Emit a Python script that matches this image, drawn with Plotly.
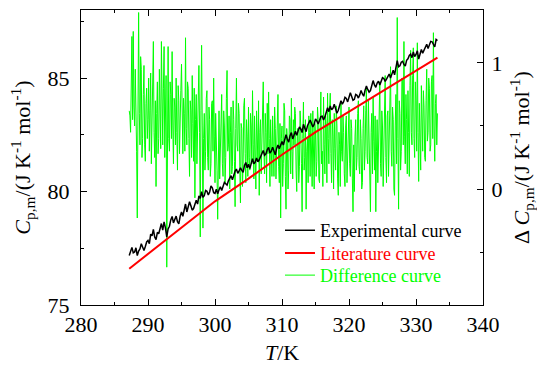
import plotly.graph_objects as go

# ---------------- data ----------------
diff_T_start = 287.2
diff_T_step = 0.1
diff_vals = [
    0.62, 0.58, 0.45, 0.90, 1.21, 0.55, 1.25, 0.65, 0.50, 0.95, 0.70, 0.30, -0.23, 0.85, 1.40, 0.60, 0.35, 1.05, 0.95, 0.25,
    0.40, 0.75, 0.98, 0.35, 0.22, 0.68, 0.80, 0.40, 0.55, 0.88, 0.30, 0.62, 0.92, 0.20, 0.48, 0.85, 1.17, 0.45, 0.25, 0.70,
    0.02, 0.60, 0.85, 0.28, 0.40, 0.95, 0.70, 0.32, 1.17, 0.55, 0.35, 0.80, 1.13, 0.25, 0.60, 0.90, -0.62, 0.50, 1.13, 0.40,
    0.30, 0.85, 0.75, 0.40, 1.09, 0.50, 0.20, 0.72, 0.65, 0.35, 0.88, 0.45, 0.15, 0.82, 0.70, 0.28, 0.45, 0.78, 0.99, 0.38,
    0.28, 0.72, 0.60, 0.30, 1.20, 0.48, 0.35, 0.85, 0.80, 0.40, 0.10, 0.70, 0.62, 0.25, 0.90, 0.52, 0.22, 0.80, -0.07, 0.55,
    0.75, 0.20, 0.40, 0.82, 0.98, 0.45, -0.38, 0.62, 1.14, 0.50, -0.31, 0.40, 0.60, 0.15, 0.30, 0.72, 0.78, 0.25, 0.15, 0.65,
    0.55, 0.10, 0.20, 0.68, 0.70, 0.30, 0.88, 0.42, 0.05, 0.60, 0.45, 0.15, -0.24, 0.50, 0.62, 0.08, 0.30, 0.70, 0.75, 0.20,
    0.10, 0.62, 0.50, 0.05, 0.25, 0.72, 0.94, 0.30, 0.35, 0.58, 0.00, 0.45, 0.65, 0.12, 0.18, 0.70, 0.55, 0.22, -0.14, 0.48,
    0.88, 0.35, 0.30, 0.68, 0.60, 0.15, -0.11, 0.52, 0.48, 0.02, 0.20, 0.66, 0.72, 0.28, 0.05, 0.55, 0.42, 0.10, 0.65, 0.25,
    0.15, 0.60, 0.50, 0.20, 0.78, 0.35, 0.08, 0.58, 0.38, 0.00, 0.62, 0.25, 0.22, 0.70, -0.05, 0.45, 0.55, 0.12, 0.30, 0.66,
    0.85, 0.30, 0.12, 0.60, 0.45, 0.05, 0.68, 0.28, 0.77, 0.40, 0.02, 0.55, 0.35, 0.10, 0.58, 0.25, 0.10, 0.65, 0.48, 0.08,
    0.25, 0.60, 0.75, 0.18, 0.05, 0.52, -0.23, 0.40, 0.50, 0.02, 0.20, 0.68, 0.62, 0.10, -0.16, 0.48, 0.40, 0.00, 0.15, 0.58,
    0.55, 0.12, 0.72, 0.30, 0.08, 0.55, 0.35, 0.65, 0.60, 0.15, -0.02, 0.48, 0.45, 0.05, 0.18, 0.62, 0.50, 0.20, -0.18, 0.40,
    0.69, 0.15, 0.25, 0.55, -0.16, 0.30, 0.40, 0.05, 0.58, 0.45, 0.10, 0.60, 0.35, 0.02, 0.62, 0.28, 0.00, 0.52, 0.45, 0.10,
    0.22, 0.65, 0.55, 0.08, 0.05, 0.50, 0.77, 0.20, 0.30, 0.02, 0.73, 0.35, 0.12, 0.58, 0.50, 0.05, 0.76, 0.40, 0.20, 0.62,
    0.76, 0.28, 0.05, 0.55, 0.42, 0.00, 0.60, 0.32, 0.15, 0.66, 0.50, 0.08, -0.05, 0.45, 0.35, 0.02, 0.68, 0.30, 0.22, 0.58,
    0.45, 0.12, 0.02, 0.50, 0.58, 0.05, 0.30, 0.62, 0.65, 0.20, 0.10, 0.55, 0.48, 0.08, -0.18, 0.35, -0.02, 0.42, 0.55, 0.15,
    0.25, 0.60, 0.70, 0.18, 0.12, 0.55, 0.40, 0.00, 0.05, 0.48, 0.66, 0.15, 0.30, 0.62, 0.80, 0.25, 0.20, 0.70, 0.45, 0.05,
    -0.18, 0.45, 0.60, 0.12, 0.73, 0.38, 0.15, 0.58, -0.18, 0.30, 0.55, 0.05, 0.35, 0.70, 0.85, 0.20, 0.10, 0.62, 0.50, 0.02,
    0.28, 0.72, 0.90, 0.25, 0.05, 0.58, 0.62, 0.10, 0.40, 0.80, 0.97, 0.30, 0.18, 0.65, 0.55, 0.00, -0.05, 0.50, 0.75, 0.20,
    1.36, 0.40, -0.16, 0.70, 0.60, 0.15, 0.30, 0.88, 0.85, 0.35, 1.17, 0.42, 0.20, 0.75, 0.55, 0.12, 0.78, 0.45, 0.10, 0.82,
    1.10, 0.45, 0.35, 0.90, 1.12, 0.40, 0.25, 0.85, 0.70, 0.30, 1.16, 0.45, 0.06, 0.68, 0.50, 0.15, 0.82, 0.40, 0.30, 0.78,
    0.65, 0.25, 0.22, 0.70, 0.95, 0.38, 0.45, 0.88, 0.80, 0.30, 0.35, 0.85, 0.90, 0.40, 1.24, 0.50, 0.22, 0.68, 0.75, 0.35, 0.60,
]

exp_T_start = 287.2
exp_T_step = 0.2
exp_vals = [
    77.18, 77.40, 77.54, 77.30, 77.34, 77.52, 77.18, 77.38, 77.47, 77.70, 77.58, 77.40, 77.58, 77.78, 77.85, 77.70, 78.12, 78.05, 78.33, 78.00,
    77.88, 78.20, 78.14, 78.45, 78.59, 78.30, 78.66, 78.40, 78.00, 78.35, 78.47, 78.75, 78.90, 78.62, 78.83, 78.92, 78.67, 78.58, 78.91, 79.10,
    78.91, 79.20, 79.45, 79.10, 79.36, 79.55, 79.37, 79.18, 79.25, 79.50, 79.62, 79.45, 79.81, 79.70, 79.99, 79.75, 79.82, 80.05, 80.01, 79.85,
    79.98, 80.25, 80.16, 79.95, 79.92, 80.10, 79.90, 80.08, 80.21, 80.05, 80.19, 80.40, 80.34, 80.28, 80.47, 80.62, 80.70, 80.52, 80.73, 80.90,
    80.99, 80.80, 80.91, 81.05, 80.93, 80.85, 81.15, 81.28, 81.05, 81.20, 81.01, 81.25, 81.45, 81.22, 81.30, 81.48, 81.31, 81.40, 81.55, 81.72,
    81.81, 81.60, 81.66, 81.85, 81.94, 81.70, 81.78, 81.95, 81.75, 81.62, 81.90, 82.05, 81.89, 82.10, 82.20, 82.05, 82.35, 82.50, 82.30, 82.18,
    82.46, 82.60, 82.32, 82.50, 82.66, 82.48, 82.65, 82.85, 82.76, 82.60, 82.96, 82.80, 82.64, 82.90, 83.04, 83.15, 83.00, 82.85, 82.96, 83.20,
    83.11, 82.98, 83.13, 83.30, 83.32, 83.15, 83.29, 83.50, 83.69, 83.52, 83.77, 83.60, 83.67, 83.85, 83.61, 83.45, 83.58, 83.80, 84.00, 83.85,
    83.96, 84.15, 84.10, 83.95, 84.20, 84.35, 84.19, 84.02, 84.06, 84.28, 84.24, 84.12, 84.26, 84.45, 84.30, 84.20, 84.47, 84.65, 84.50, 84.38,
    84.45, 84.70, 84.89, 84.70, 84.59, 84.78, 84.86, 84.70, 84.83, 85.02, 84.98, 84.85, 84.95, 85.10, 85.18, 85.00, 85.17, 85.35, 85.14, 85.45,
    85.77, 85.50, 85.54, 85.70, 85.74, 85.60, 85.53, 85.78, 85.85, 86.00, 86.06, 85.90, 86.15, 85.95, 86.04, 86.20, 85.84, 86.05, 86.26, 86.10,
    86.26, 86.40, 86.49, 86.30, 86.48, 86.62, 86.60, 86.45, 86.37, 86.70, 86.65,
]

lit_T = [287.2, 290.0, 295.0, 300.0, 305.0, 310.0, 315.0, 320.0, 325.0, 330.0, 333.2]
lit_vals = [76.60, 77.25, 78.40, 79.57, 80.57, 81.62, 82.62, 83.52, 84.42, 85.32, 85.90]

x_ticks = [280, 290, 300, 310, 320, 330, 340]
left_ticks = [75, 80, 85]
right_ticks = [0, 1]

diff_T = [round(diff_T_start + diff_T_step * i, 2) for i in range(len(diff_vals))]
exp_T = [round(exp_T_start + exp_T_step * i, 2) for i in range(len(exp_vals))]

FONT = "Liberation Serif, Times New Roman, serif"

fig = go.Figure()

# green on the (right-side) primary axis so it sits beneath the black curve
fig.add_trace(go.Scatter(
    x=diff_T, y=diff_vals, mode="lines", yaxis="y",
    line=dict(color="#00ff00", width=1),
    name="<span style='color:#00ff00'>Difference curve</span>", legend="legend3",
))
fig.add_trace(go.Scatter(
    x=lit_T, y=lit_vals, mode="lines", yaxis="y2",
    line=dict(color="#ff0000", width=2),
    name="<span style='color:#ff0000'>Literature curve</span>", legend="legend2",
))
fig.add_trace(go.Scatter(
    x=exp_T, y=exp_vals, mode="lines", yaxis="y2",
    line=dict(color="#000000", width=1.5),
    name="Experimental curve", legend="legend",
))

axis_common = dict(
    showgrid=False, zeroline=False, showline=True, linecolor="black", linewidth=1,
    ticks="inside", ticklen=6, tickcolor="black", tickwidth=1, automargin=False,
    tickfont=dict(family=FONT, size=22, color="black"),
)

leg_common = dict(
    x=0.495, xanchor="left", yanchor="top",
    bgcolor="rgba(0,0,0,0)", borderwidth=0,
    font=dict(family=FONT, size=18, color="black"),
    itemwidth=30,
)

fig.update_layout(
    width=537, height=365,
    margin=dict(l=81, r=54, t=10, b=60),
    paper_bgcolor="white", plot_bgcolor="white",
    font=dict(family=FONT, color="black"),
    showlegend=True,
    legend=dict(**leg_common, y=0.315),
    legend2=dict(**leg_common, y=0.238),
    legend3=dict(**leg_common, y=0.163),
    xaxis=dict(
        **axis_common, range=[280, 340], tickvals=x_ticks, mirror="ticks",
        minor=dict(dtick=5, tick0=0, ticklen=3, ticks="inside", tickcolor="black"),
        title=dict(text="<i>T</i>/K", font=dict(family=FONT, size=22), standoff=10),
    ),
    yaxis=dict(
        **axis_common, range=[-0.92, 1.42], tickvals=right_ticks, side="right",
        minor=dict(dtick=0.5, tick0=0, ticklen=3, ticks="inside", tickcolor="black"),
        ticklabelstandoff=3,
        title=dict(text="Δ <i>C</i><sub>p,m</sub>/(J K<sup>-1</sup> mol<sup>-1</sup>)",
                   font=dict(family=FONT, size=22), standoff=12),
    ),
    yaxis2=dict(
        **axis_common, range=[75, 88], tickvals=left_ticks, side="left",
        overlaying="y",
        minor=dict(dtick=2.5, tick0=0, ticklen=3, ticks="inside", tickcolor="black"),
        ticklabelstandoff=6,
        title=dict(text="<i>C</i><sub>p,m</sub>/(J K<sup>-1</sup> mol<sup>-1</sup>)",
                   font=dict(family=FONT, size=22), standoff=10),
    ),
)

fig.write_html(
    "out.html",
    config={"displayModeBar": False},
    post_script="document.body.style.margin='0';document.body.style.padding='0';",
)
